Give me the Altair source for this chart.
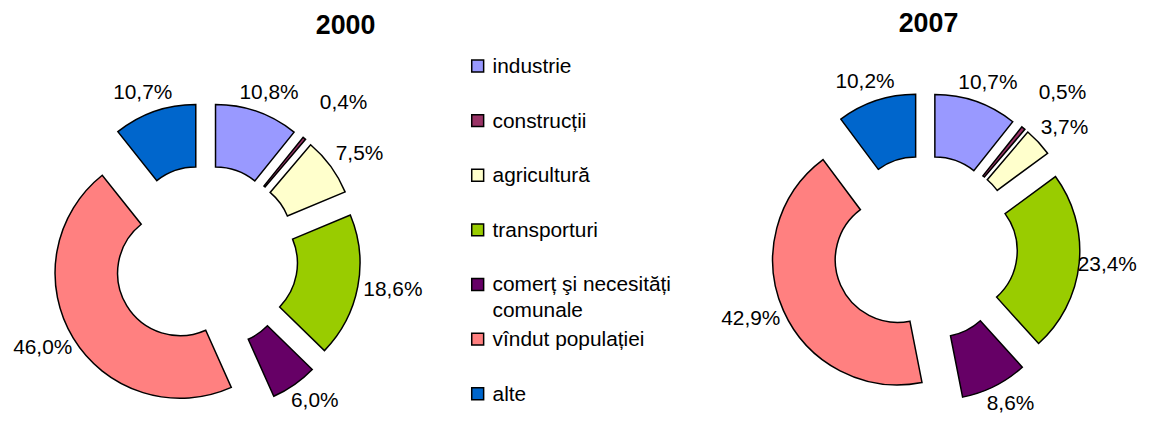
import altair as alt
import pandas as pd

# ---- data ----
categories = [
    "industrie",
    "construcții",
    "agricultură",
    "transporturi",
    "comerț şi necesități comunale",
    "vîndut populației",
    "alte",
]
years = ["2000", "2007"]
values_2000 = [10.8, 0.4, 7.5, 18.6, 6.0, 46.0, 10.7]
values_2007 = [10.7, 0.5, 3.7, 23.4, 8.6, 42.9, 10.2]
colors = ["#9999FF", "#993366", "#FFFFCC", "#99CC00", "#660066", "#FF8080", "#0066CC"]

rows = []
for year, vals in zip(years, [values_2000, values_2007]):
    for i, (c, v) in enumerate(zip(categories, vals)):
        rows.append({"year": year, "cat": c, "order": i, "value": v,
                     "label": f"{v:.1f}".replace(".", ",") + "%"})
df = pd.DataFrame(rows)

# ---- layout constants ----
W, H = 1142, 409
XS = 4  # horizontal compensation for the wider canvas
CX = {"2000": 195 + XS, "2007": 919.5 + XS}
CY = {"2000": 250, "2007": 240}
R_OUT, R_IN, EXPLODE, R_LABEL = 126, 63, 30, 166
TINY_EXTRA = 26          # extra label distance for very thin slices
HALF_W, HALF_H = 26, 10
X_MAX = W - 35           # keep labels inside the canvas
FONT = "Liberation Sans"

color_scale = alt.Scale(domain=categories, range=colors)

base = (
    alt.Chart(df)
    .transform_joinaggregate(total="sum(value)", groupby=["year"])
    .transform_window(cum="sum(value)", groupby=["year"],
                      sort=[alt.SortField("order", order="ascending")],
                      frame=[None, 0])
    .transform_calculate(t0="2*PI*(datum.cum - datum.value)/datum.total")
    .transform_calculate(t1="2*PI*datum.cum/datum.total")
    .transform_calculate(mid="(datum.t0 + datum.t1)/2")
    .transform_calculate(cx=f"datum.year === '2000' ? {CX['2000']} : {CX['2007']}")
    .transform_calculate(cy=f"datum.year === '2000' ? {CY['2000']} : {CY['2007']}")
    .transform_calculate(px=f"datum.cx + {EXPLODE}*sin(datum.mid)")
    .transform_calculate(py=f"datum.cy - {EXPLODE}*cos(datum.mid)")
    .transform_calculate(lr=f"{R_LABEL} + (datum.value < 1 ? {TINY_EXTRA} : 0)")
    .transform_calculate(lx=f"min({X_MAX}, datum.cx + datum.lr*sin(datum.mid) + {HALF_W}*sin(datum.mid))")
    .transform_calculate(ly=f"datum.cy - datum.lr*cos(datum.mid) - {HALF_H}*cos(datum.mid)")
)

arcs = base.mark_arc(innerRadius=R_IN, outerRadius=R_OUT, stroke="black",
                     strokeWidth=1.5).encode(
    theta=alt.Theta("t0:Q", scale=None, stack=None),
    theta2="t1:Q",
    x=alt.X("px:Q", scale=None, axis=None),
    y=alt.Y("py:Q", scale=None, axis=None),
    color=alt.Color("cat:N", scale=color_scale, legend=None),
)

labels = base.mark_text(font=FONT, fontSize=21, align="center",
                        baseline="middle", color="black").encode(
    x=alt.X("lx:Q", scale=None, axis=None),
    y=alt.Y("ly:Q", scale=None, axis=None),
    text="label:N",
)

leg_df = pd.DataFrame({"cat": categories})
leg_y = alt.Y("cat:N", scale=alt.Scale(type="point", domain=categories,
                                       range=[57, 387], padding=0), axis=None)
leg_sq = alt.Chart(leg_df).mark_square(size=144, stroke="black", strokeWidth=1.5,
                                       filled=True, opacity=1).encode(
    x=alt.value(469 + XS),
    y=leg_y,
    color=alt.Color("cat:N", scale=color_scale, legend=None),
)
leg_txt = alt.Chart(leg_df).transform_calculate(
    leg="replace(datum.cat, ' comunale', '\\ncomunale')"
).mark_text(font=FONT, fontSize=21, align="left", baseline="alphabetic", dy=7,
            lineBreak="\n", lineHeight=26, color="black").encode(
    x=alt.value(484 + XS),
    y=leg_y,
    text="leg:N",
)

title_df = pd.DataFrame({"year": years})
t1 = alt.Chart(title_df).transform_filter("datum.year === '2000'").mark_text(
    font=FONT, fontSize=27, fontWeight="bold", align="center", baseline="middle"
).encode(x=alt.value(336 + XS), y=alt.value(17), text="year:N")
t2 = alt.Chart(title_df).transform_filter("datum.year === '2007'").mark_text(
    font=FONT, fontSize=27, fontWeight="bold", align="center", baseline="middle"
).encode(x=alt.value(923 + XS), y=alt.value(15), text="year:N")

chart = (
    alt.layer(arcs, labels, leg_sq, leg_txt, t1, t2)
    .resolve_scale(x="independent", y="independent")
    .properties(width=W, height=H, padding=0, autosize="none",
                background="white")
    .configure_view(stroke=None)
)

chart.save("out.html", embed_options={"renderer": "svg", "actions": False})
